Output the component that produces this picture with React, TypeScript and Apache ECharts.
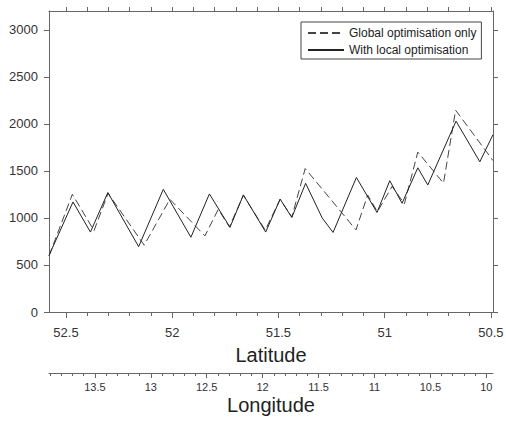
import React, { useEffect, useRef } from "react";
import * as echarts from "echarts";

// Latitude of each vertex (x) and elevation value (y)
const globalLat = [52.58, 52.47, 52.368, 52.302, 52.132, 52.011, 51.846, 51.783, 51.731, 51.665, 51.562, 51.492, 51.437, 51.374, 51.135, 51.08, 51.034, 50.965, 50.907, 50.844, 50.723, 50.666, 50.49];
const globalVal = [597, 1251, 865, 1262, 710, 1198, 809, 1092, 905, 1240, 870, 1198, 1010, 1525, 873, 1244, 1067, 1335, 1150, 1700, 1370, 2145, 1610];

const localLat = [52.58, 52.467, 52.385, 52.303, 52.158, 52.042, 51.912, 51.825, 51.728, 51.665, 51.56, 51.492, 51.437, 51.372, 51.294, 51.243, 51.133, 51.036, 50.976, 50.918, 50.844, 50.797, 50.664, 50.552, 50.49];
const localVal = [600, 1170, 850, 1270, 695, 1304, 795, 1255, 900, 1245, 850, 1200, 1005, 1368, 1000, 846, 1430, 1058, 1396, 1156, 1533, 1350, 2029, 1597, 1885];

const latMajor = [50.5, 51, 51.5, 52, 52.5];
const lonMajor = [10, 10.5, 11, 11.5, 12, 12.5, 13, 13.5];
const yTicks = [0, 500, 1000, 1500, 2000, 2500, 3000];

const latRange = [50.49, 52.58];
const lonRange = [9.94, 13.91];
const yRange = [0, 3200];

const steps = (a: number, b: number, s: number) => {
  const out: number[] = [];
  for (let i = 0; a + i * s <= b + 1e-9; i++) out.push(Math.round((a + i * s) * 10) / 10);
  return out;
};
const latMinor = steps(50.5, 52.5, 0.1);
const lonMinor = steps(10.0, 13.9, 0.1);

const FONT = "Liberation Sans, Arial, sans-serif";
const AX = "#666";
const TXT = "#333";
const fmt = (v: number) => String(v);

export default function App() {
  const ref = useRef<HTMLDivElement>(null);
  useEffect(() => {
    if (!ref.current) return;
    const chart = echarts.init(ref.current, undefined, { renderer: "svg" });
    const hidden = { show: false };
    chart.setOption({
      animation: false,
      backgroundColor: "#fff",
      textStyle: { fontFamily: FONT },
      grid: { left: 49, right: 13, top: 11, bottom: 111, containLabel: false, outerBoundsMode: "none" },
      legend: {
        orient: "vertical",
        left: 301,
        top: 22,
        padding: [5, 5, 3, 6],
        itemWidth: 36,
        itemHeight: 12,
        itemGap: 5,
        backgroundColor: "#fff",
        borderColor: "#444",
        borderWidth: 1,
        borderRadius: 0,
        itemStyle: { opacity: 0 },
        textStyle: { fontSize: 12, color: "#222", fontFamily: FONT },
        data: ["Global optimisation only", "With local optimisation"],
      },
      xAxis: [
        {
          type: "value", position: "bottom", min: latRange[0], max: latRange[1], inverse: true,
          axisLine: { show: true, lineStyle: { color: AX, width: 1 } },
          axisTick: { show: true, length: 6, customValues: latMajor, lineStyle: { color: AX } },
          axisLabel: { show: true, customValues: latMajor, margin: 14, fontSize: 13, color: TXT, fontFamily: FONT, formatter: fmt },
          splitLine: hidden,
          name: "Latitude", nameLocation: "middle", nameGap: 33,
          nameTextStyle: { fontSize: 20, color: "#222", fontFamily: FONT },
        },
        {
          type: "value", position: "bottom", min: latRange[0], max: latRange[1], inverse: true,
          axisLine: hidden,
          axisTick: { show: true, length: 4, customValues: latMinor, lineStyle: { color: AX } },
          axisLabel: hidden, splitLine: hidden,
        },
        {
          type: "value", position: "top", min: latRange[0], max: latRange[1], inverse: true,
          axisLine: { show: true, lineStyle: { color: AX, width: 1 } },
          axisTick: { show: true, length: 4, customValues: latMinor, lineStyle: { color: AX } },
          axisLabel: hidden, splitLine: hidden,
        },
        {
          type: "value", position: "bottom", offset: 61, min: lonRange[0], max: lonRange[1], inverse: true,
          axisLine: { show: true, lineStyle: { color: AX, width: 1 } },
          axisTick: { show: true, length: 5, customValues: lonMajor, lineStyle: { color: AX } },
          axisLabel: { show: true, customValues: lonMajor, margin: 8, fontSize: 11, color: TXT, fontFamily: FONT, formatter: fmt },
          splitLine: hidden,
          name: "Longitude", nameLocation: "middle", nameGap: 22, nameMoveOverlap: false,
          nameTextStyle: { fontSize: 20, color: "#222", fontFamily: FONT },
        },
        {
          type: "value", position: "bottom", offset: 61, min: lonRange[0], max: lonRange[1], inverse: true,
          axisLine: hidden,
          axisTick: { show: true, length: 3, customValues: lonMinor, lineStyle: { color: AX } },
          axisLabel: hidden, splitLine: hidden,
        },
      ],
      yAxis: [
        {
          type: "value", position: "left", min: yRange[0], max: yRange[1],
          axisLine: { show: true, lineStyle: { color: AX, width: 1 } },
          axisTick: { show: true, length: 5, customValues: yTicks, lineStyle: { color: AX } },
          axisLabel: { show: true, customValues: yTicks, margin: 11, fontSize: 13, color: TXT, fontFamily: FONT, formatter: fmt },
          splitLine: hidden,
        },
        {
          type: "value", position: "right", min: yRange[0], max: yRange[1],
          axisLine: { show: true, lineStyle: { color: AX, width: 1 } },
          axisTick: { show: true, length: 5, customValues: yTicks, lineStyle: { color: AX } },
          axisLabel: hidden, splitLine: hidden,
        },
      ],
      series: [
        {
          name: "Global optimisation only", type: "line", xAxisIndex: 0, yAxisIndex: 0,
          symbol: "none", silent: true,
          lineStyle: { color: "#444", width: 1, type: [8, 4] },
          itemStyle: { color: "#444" },
          data: globalLat.map((x, i) => [x, globalVal[i]]),
        },
        {
          name: "With local optimisation", type: "line", xAxisIndex: 0, yAxisIndex: 0,
          symbol: "none", silent: true,
          lineStyle: { color: "#222", width: 1, type: "solid" },
          itemStyle: { color: "#222" },
          data: localLat.map((x, i) => [x, localVal[i]]),
        },
      ],
    });
    return () => chart.dispose();
  }, []);
  return <div ref={ref} style={{ width: 506, height: 423, position: "absolute", left: 0, top: 0 }} />;
}
